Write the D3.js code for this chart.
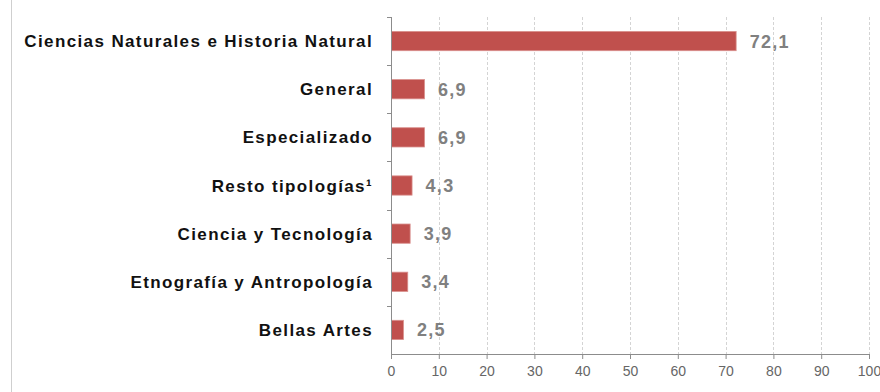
<!DOCTYPE html>
<html>
<head>
<meta charset="utf-8">
<script src="https://cdn.jsdelivr.net/npm/d3@7"></script>
<style>
  html, body { margin: 0; padding: 0; background: #fff; }
  svg { display: block; }
</style>
</head>
<body>
<svg id="chart" width="880" height="392"></svg>
<script>
// Museum typologies and their share (%)
const categories = [
  "Ciencias Naturales e Historia Natural",
  "General",
  "Especializado",
  "Resto tipologías¹",
  "Ciencia y Tecnología",
  "Etnografía y Antropología",
  "Bellas Artes"
];
const values = [72.1, 6.9, 6.9, 4.3, 3.9, 3.4, 2.5];
const xTicks = [0, 10, 20, 30, 40, 50, 60, 70, 80, 90, 100];

const svg = d3.select("#chart");
const W = 880, H = 392;
const margin = { left: 391, right: 11, top: 17, bottom: 38 };

const x = d3.scaleLinear()
  .domain([0, 100])
  .range([margin.left, W - margin.right]);

const y = d3.scaleBand()
  .domain(categories)
  .range([margin.top, H - margin.bottom])
  .paddingInner(0.6)
  .paddingOuter(0.3);

const esLocale = d3.formatLocale({ decimal: ",", thousands: ".", grouping: [3], currency: ["", " €"] });
const fmt = esLocale.format(".1f");

// left frame line
svg.append("line")
  .attr("x1", 11.5).attr("x2", 11.5)
  .attr("y1", 0).attr("y2", H)
  .attr("stroke", "#cfcfcf").attr("stroke-width", 1);

// dashed vertical gridlines
svg.append("g")
  .selectAll("line")
  .data(xTicks.filter(d => d > 0))
  .join("line")
  .attr("x1", d => Math.round(x(d)) + 0.5)
  .attr("x2", d => Math.round(x(d)) + 0.5)
  .attr("y1", margin.top)
  .attr("y2", H - margin.bottom)
  .attr("stroke", "#d4d4d4")
  .attr("stroke-width", 1)
  .attr("stroke-dasharray", "3,2");

// bars
svg.append("g")
  .selectAll("rect")
  .data(values)
  .join("rect")
  .attr("x", x(0) + 0.5)
  .attr("y", (d, i) => y(categories[i]))
  .attr("width", d => x(d) - x(0))
  .attr("height", y.bandwidth())
  .attr("fill", "#C0504D")
  .attr("stroke", "#d98f8c")
  .attr("stroke-width", 0.8);

// value labels
svg.append("g")
  .selectAll("text")
  .data(values)
  .join("text")
  .attr("x", d => x(d) + 14)
  .attr("y", (d, i) => y(categories[i]) + y.bandwidth() / 2)
  .attr("dy", "0.36em")
  .attr("font-family", "'Liberation Sans', Arial, sans-serif")
  .attr("font-size", 18)
  .attr("font-weight", "bold")
  .attr("letter-spacing", "1.3px")
  .attr("fill", "#808080")
  .text(d => fmt(d));

// bottom axis
const xAxis = svg.append("g")
  .attr("transform", `translate(0,${H - margin.bottom})`)
  .call(d3.axisBottom(x).tickValues(xTicks).tickSize(5).tickSizeOuter(0).tickFormat(d3.format("d")));
xAxis.select(".domain").attr("stroke", "#8c8c8c");
xAxis.selectAll(".tick line").attr("stroke", "#8c8c8c");
xAxis.selectAll(".tick text")
  .attr("font-family", "'Liberation Sans', Arial, sans-serif")
  .attr("font-size", 14)
  .attr("fill", "#666")
  .attr("dy", "1em");

// left axis: line with ticks between categories
const yAxisG = svg.append("g");
yAxisG.append("line")
  .attr("x1", x(0) + 0.5).attr("x2", x(0) + 0.5)
  .attr("y1", margin.top).attr("y2", H - margin.bottom)
  .attr("stroke", "#8c8c8c");
const bounds = d3.range(categories.length).map(i => margin.top + i * (H - margin.top - margin.bottom) / categories.length);
yAxisG.selectAll("line.tk")
  .data(bounds)
  .join("line")
  .attr("class", "tk")
  .attr("x1", x(0) - 4).attr("x2", x(0) + 0.5)
  .attr("y1", d => Math.round(d) + 0.5).attr("y2", d => Math.round(d) + 0.5)
  .attr("stroke", "#8c8c8c");

// category labels
yAxisG.selectAll("text")
  .data(categories)
  .join("text")
  .attr("x", x(0) - 18)
  .attr("y", d => y(d) + y.bandwidth() / 2)
  .attr("dy", "0.36em")
  .attr("text-anchor", "end")
  .attr("font-family", "'Liberation Sans', Arial, sans-serif")
  .attr("font-size", 17)
  .attr("font-weight", "bold")
  .attr("letter-spacing", "1.38px")
  .attr("fill", "#111")
  .text(d => d);
</script>
</body>
</html>
